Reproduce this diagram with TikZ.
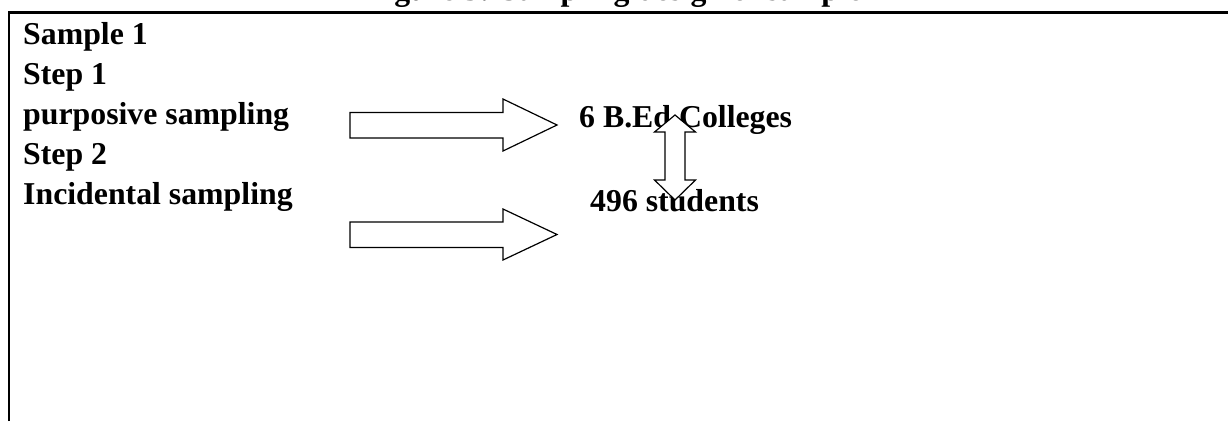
\documentclass[tikz,border=0pt]{standalone}
\usepackage{fontspec}
\setmainfont{Liberation Serif}
\begin{document}
\begin{tikzpicture}[x=1pt,y=-1pt,
  txt/.style={anchor=base west, inner sep=0pt, font=\fontsize{31.8}{38}\selectfont\bfseries},
  blockarrow/.style={draw=black, line width=1.2pt, fill=white, line join=miter},
  rulebar/.style={line width=2.2pt, line join=miter}]
\useasboundingbox (0,0) rectangle (1228,421);
\clip (0,0) rectangle (1228,421);
% partly cut title
\node[txt, anchor=base] (title) at (614,0.5) {Figure 3: Sampling design of sample};
% frame
\draw[rulebar] (9,421) -- (9,12.5) -- (1228,12.5);
% left column
\node[txt] (s1)  at (23,44)    {Sample 1};
\node[txt] (st1) at (23,84)    {Step 1};
\node[txt] (ps)  at (23,124.5) {purposive sampling};
\node[txt] (st2) at (23,164)   {Step 2};
\node[txt] (is)  at (23,204)   {Incidental sampling};
% right texts
\node[txt] (col) at (579,127.5) {6 B.Ed Colleges};
\node[txt] (stu) at (590,211)   {496 students};
% block arrows
\draw[blockarrow] (350,112.5) -- (503,112.5) -- (503,99) -- (557,125) -- (503,151) -- (503,138) -- (350,138) -- cycle;
\draw[blockarrow] (350,222) -- (503,222) -- (503,209) -- (557,234.5) -- (503,260) -- (503,247.5) -- (350,247.5) -- cycle;
% double vertical arrow
\draw[blockarrow] (675,115) -- (695.5,132) -- (685,132) -- (685,180) -- (695.5,180) -- (675,200) -- (654.5,180) -- (665,180) -- (665,132) -- (654.5,132) -- cycle;
\end{tikzpicture}
\end{document}
